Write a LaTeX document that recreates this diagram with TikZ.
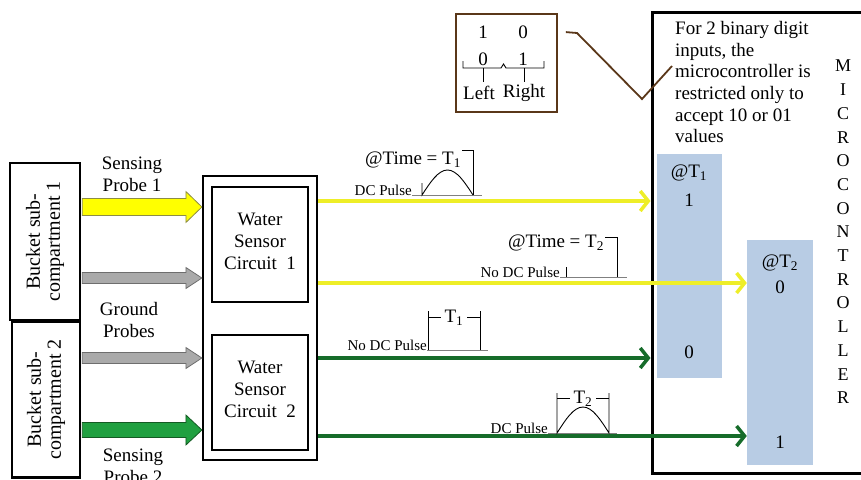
\documentclass[tikz,border=0pt]{standalone}
\usepackage{fontspec}
\setmainfont{Liberation Serif}
\usetikzlibrary{arrows.meta,calc}

\definecolor{groc}{RGB}{255,255,0}
\definecolor{grocf}{RGB}{140,140,70}
\definecolor{groclin}{RGB}{238,238,40}
\definecolor{verd}{RGB}{32,160,64}
\definecolor{verdf}{RGB}{20,90,35}
\definecolor{verdlin}{RGB}{22,108,42}
\definecolor{gris}{RGB}{170,170,170}
\definecolor{grisf}{RGB}{110,110,110}
\definecolor{blau}{RGB}{184,204,228}
\definecolor{marro}{RGB}{90,55,25}

% fletxa grossa: farciment, vora, inici, final, mig cos, mig cap
\newcommand{\fletxa}[6]{%
	\filldraw[fill=#1,draw=#2,line width=0.8pt]
		($(#3)+(1.2,-#5)$) -- ($(#4)+(-16,-#5)$) -- ($(#4)+(-16,-#6)$) -- (#4)
		-- ($(#4)+(-16,#6)$) -- ($(#4)+(-16,#5)$) -- ($(#3)+(1.2,#5)$) -- cycle;}

\begin{document}
\begin{tikzpicture}[x=1pt,y=-1pt,
	caixa/.style={draw,line width=2.2pt,inner sep=0pt},
	txt/.style={font=\fontsize{19}{21.7}\selectfont,inner sep=0pt},
	petit/.style={font=\fontsize{15}{17}\selectfont,inner sep=0pt},
	senyal/.style={line width=3.5pt,-{Straight Barb[length=8pt,width=20pt]}},
	fi/.style={line width=0.9pt},
	base/.style={line width=0.8pt,gray}]

	\useasboundingbox (0,0) rectangle (861,479);

	% Caixes
	\node[caixa,minimum width=70pt,minimum height=157pt] (B1) at (45,241.5) {};
	\node[caixa,minimum width=68pt,minimum height=156pt] (B2) at (46,399.5) {};
	\node[txt,rotate=90,align=center,font=\fontsize{20}{20}\selectfont] (B1t) at (B1) {Bucket sub-\\compartment 1};
	\node[txt,rotate=90,align=center,font=\fontsize{20}{20}\selectfont] (B2t) at (B2) {Bucket sub-\\compartment 2};

	\node[caixa,minimum width=114pt,minimum height=284pt] (C) at (260,318) {};
	\node[caixa,minimum width=96pt,minimum height=115pt] (C1) at (260,244.5) {};
	\node[caixa,minimum width=96pt,minimum height=115pt] (C2) at (260,392.5) {};
	\node[txt,align=center] (C1t) at (260,241.5) {Water\\Sensor\\Circuit\ \ 1};
	\node[txt,align=center] (C2t) at (260,389.5) {Water\\Sensor\\Circuit\ \ 2};

	\node[caixa,line width=3pt,minimum width=223pt,minimum height=461pt] (M) at (763.5,242.5) {};
	\node[fill=blau,minimum width=65pt,minimum height=224pt] (T1) at (689.5,266) {};
	\node[fill=blau,minimum width=66pt,minimum height=225pt] (T2) at (780,352.5) {};

	% Sondes
	\coordinate (p1) at (0,207);
	\coordinate (p2) at (0,278);
	\coordinate (p3) at (0,358);
	\coordinate (p4) at (0,430);
	\fletxa{groc}{grocf}{B1.east |- p1}{C.west |- p1}{8.5}{15.5}
	\fletxa{gris}{grisf}{B1.east |- p2}{C.west |- p2}{5.5}{10.5}
	\fletxa{gris}{grisf}{B2.east |- p3}{C.west |- p3}{5.5}{10.5}
	\fletxa{verd}{verdf}{B2.east |- p4}{C.west |- p4}{7.5}{15}

	\node[txt,align=center] (SP1) at (132,174) {Sensing\\Probe 1};
	\node[txt,align=center] (GP) at (129,320) {Ground\\Probes};
	\node[txt,align=center] (SP2) at (133,466) {Sensing\\Probe 2};

	% Senyals
	\coordinate (s1) at (0,201);
	\coordinate (s2) at (0,283);
	\coordinate (s3) at (0,358);
	\coordinate (s4) at (0,436);
	\draw[senyal,groclin] (C.east |- s1) -- (M.west |- s1);
	\draw[senyal,groclin] (C.east |- s2) -- (T2.west |- s2);
	\draw[senyal,verdlin] (C.east |- s3) -- (M.west |- s3);
	\draw[senyal,verdlin] (C.east |- s4) -- (T2.west |- s4);

	% Polsos
	\node[txt] (tm1) at (413,160) {@Time = T\textsubscript{1}};
	\node[petit,anchor=base east] (dc1) at (412,195) {DC Pulse};
	\draw[base] (dc1.base east) -- (482,195);
	\draw[fi] (422,183) -- (422,195) sin (447.5,170) cos (473,195);
	\draw[fi] (462,150) -- (473,150) -- (473,195);

	\node[txt] (tm2) at (556,243) {@Time = T\textsubscript{2}};
	\node[petit,anchor=base east] (nd1) at (560,277) {No DC Pulse};
	\draw[base] (nd1.base east) -- (627,277);
	\draw[fi] (566,267) -- (566,277);
	\draw[fi] (605,237) -- (617,237) -- (617,277);

	\node[petit,anchor=base east] (nd2) at (427,350) {No DC Pulse};
	\draw[base] (nd2.base east) -- (488,350);
	\draw[fi] (428,350) -- (428,311);
	\draw[fi] (480,350) -- (480,311);
	\draw[fi] (428,317) -- (441,317);
	\draw[fi] (467,317) -- (480,317);
	\node[txt] (tp1) at (454,318) {T\textsubscript{1}};

	\node[petit,anchor=base east] (dc2) at (548,433) {DC Pulse};
	\draw[base] (dc2.base east) -- (617,433);
	\draw[fi] (557,393) -- (557,433) sin (583,407) cos (609,433) -- (609,393);
	\draw[fi] (557,398) -- (570,398);
	\draw[fi] (596,398) -- (609,398);
	\node[txt] (tp2) at (583,399) {T\textsubscript{2}};

	% Microcontrolador
	\node[txt,anchor=north west,align=left] (Mt) at (675,21) {For 2 binary digit\\inputs, the\\microcontroller is\\restricted only to\\accept 10 or 01\\values};
	\node[align=center,inner sep=0pt,anchor=north,font=\fontsize{18}{23.7}\selectfont] (Ml) at (843,60) {M\\I\\C\\R\\O\\C\\O\\N\\T\\R\\O\\L\\L\\E\\R};

	\node[txt] (T1a) at (689,173) {@T\textsubscript{1}};
	\node[txt] (T1b) at (689,200) {1};
	\node[txt] (T1c) at (689,352) {0};
	\node[txt] (T2a) at (780,263) {@T\textsubscript{2}};
	\node[txt] (T2b) at (780,287) {0};
	\node[txt] (T2c) at (780,442) {1};

	% Quadre de valors
	\node[draw=marro,line width=1.8pt,minimum width=101pt,minimum height=98pt] (Q) at (506.5,63) {};
	\node[txt] (q1) at (483,32) {1};
	\node[txt] (q2) at (523,32) {0};
	\node[txt] (q3) at (483,59) {0};
	\node[txt] (q4) at (523,59) {1};
	\draw[fi] (463,61) -- (463,68) -- (501,68) -- (503.5,64) -- (506,68) -- (544,68) -- (544,61);
	\draw[fi] (483,68) -- (483,82);
	\draw[fi] (524,68) -- (524,82);
	\node[txt] (ql) at (479,93) {Left};
	\node[txt] (qr) at (524,93) {Right};

	\coordinate (k0) at ($(Q.north east)+(8,19)$);
	\coordinate (k1) at (577,33);
	\coordinate (k2) at (642,99);
	\coordinate (k3) at (672,66);
	\draw[marro,line width=1.8pt] (k0) -- (k1) -- (k2) -- (k3);

\end{tikzpicture}
\end{document}
